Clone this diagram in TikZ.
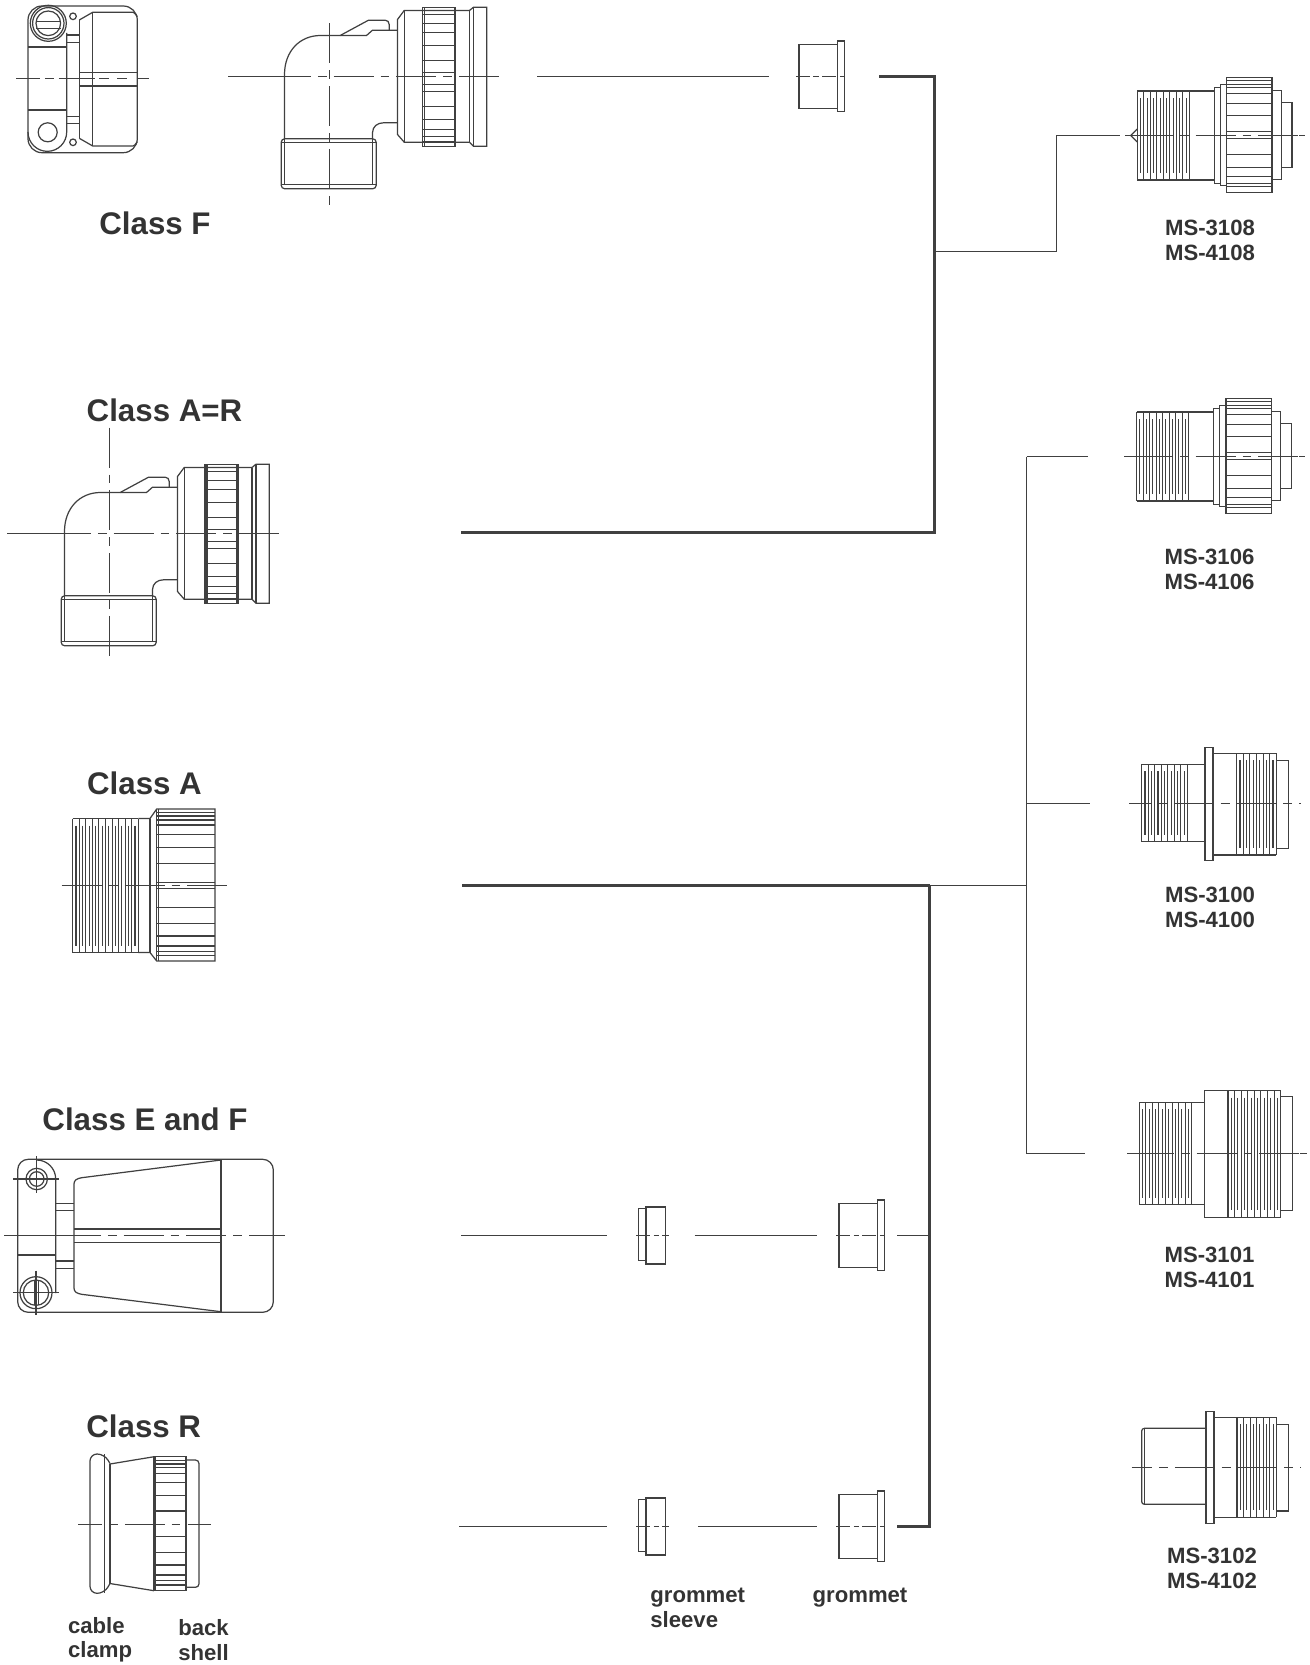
\documentclass[tikz,border=0pt]{standalone}
\usepackage{fontspec}
\setmainfont{Liberation Sans}
\usepackage{xcolor}
\definecolor{ink}{HTML}{333333}
\definecolor{wire}{HTML}{404040}
\usetikzlibrary{positioning}
\tikzset{
    part/.style = {wire, line width=0.7pt},
    finepart/.style = {wire, line width=0.6pt},
    axis/.style = {part, dash pattern=on 22.7pt off 4pt on 5pt off 4pt},
    fineaxis/.style = {finepart, dash pattern=on 8pt off 2pt on 3pt off 2pt},
    bus/.style = {wire, line width=1.2pt},
    classlabel/.style = {ink, font=\fontsize{17.8}{20}\selectfont\bfseries, inner sep=0pt},
    partlabel/.style = {ink, font=\fontsize{12.6}{13.9}\selectfont\bfseries, inner sep=0pt, align=center},
    notelabel/.style = {partlabel, anchor=west, align=left}
}
\newcommand\axisline[4]{
  \pgfmathsetmacro\phasept{max(#1-#2,0)*0.5669}
  \pgfmathsetmacro\stubend{max(#1,#2)}
  \draw[part] (#1,#4) -- (\stubend,#4);
  \draw[axis, dash phase=\phasept pt] (\stubend,#4) -- (#3,#4);
}
\newcommand\threads[5]{
  \pgfmathsetmacro\pitch{(#2-#1)/#3}
  \foreach \i in {0,...,#3}
    \draw[finepart] ({#1+\i*\pitch},#4) -- ({#1+\i*\pitch},#5);
  \foreach \i in {1,...,#3}
    \draw[finepart] ({#1+(\i-.5)*\pitch},#4+7) -- ({#1+(\i-.5)*\pitch},#5-7);
  \draw[part] (#1,#4) -- (#2,#4) (#1,#5) -- (#2,#5);
}
\newcommand\knurl[3]{
  \foreach \k in {#3}
    \draw[finepart] (#1,\k) -- (#2,\k);
}
\tikzset{
    sleevepart/.pic = {
      \draw[part] (0,-28.5) rectangle (19.7,28.5);
      \draw[part] (0,-26.7) -- (-7.7,-26.7) -- (-7.7,25.3) -- (0,25.3);
      \draw[fineaxis] (-10,0) -- (23,0);
    },
    grommetpart/.pic = {
      \draw[part] (0,-32) -- (-38.7,-32) -- (-38.7,32) -- (0,32);
      \draw[part] (0,-35.5) rectangle (7,35.2);
      \draw[fineaxis] (-41.7,0) -- (9.3,0);
    },
    pics/elbowpart/.style = {code = {
      \draw[part] (-45,62.3) -- (-45,-2) .. controls (-45,-25) and (-30,-41) .. (-9,-41) -- (37,-41) -- (43,-46.3) -- (68,-46.3);
      \draw[part] (10.7,-41) -- (39,-56.3) -- (55.7,-56.3) .. controls (58,-56.3) and (59.7,-54.5) .. (59.7,-52) -- (59.7,-46.3);
      \draw[part] (43,62.3) -- (43,56.3) .. controls (43,50) and (48,46.3) .. (54,46.3) -- (68,46.3);
      \draw[part, rounded corners=2] (-48.3,62.3) rectangle (46.7,112.3);
      \draw[part] (-48.3,66.3) -- (46.7,66.3) (-48.3,108.3) -- (46.7,108.3) (-45,62.3) -- (-45,108.3) (43,62.3) -- (43,108.3);
      \draw[part] ({140+#1},-66) -- (74.7,-66) -- (68,-57) -- (68,58) -- (74.7,65.7) -- ({140+#1},65.7);
      \draw[part] (74.7,-66) -- (74.7,65.7);
      \begin{scope}[xshift=#1*0.02cm]
        \draw[part] (140,-66) -- (140,65.7);
        \draw[part] (93,-69.3) rectangle (126,69.7);
        \draw[finepart] (95,-69.3) -- (95,69.7) (125,-69.3) -- (125,69.7);
        \knurl{93}{126}{-66,-62,-53,-43.7,-31.3,-16.3,-4.3,8.3,14.7,30.3,43,53,59.7,64.7}
        \draw[part] (140,-66) -- (144,-69.3) -- (157.3,-69.3) -- (157.3,69.7) -- (144,69.7) -- (140,65.7);
        \draw[part] (144,-69.3) -- (144,69.7);
      \end{scope}
    }},
    plugpart/.pic = {
      \threads{0}{52}{8}{-44.5}{44.5}
      \draw[part] (52,-44.5) -- (77,-44.5) (52,44.5) -- (77,44.5);
      \draw[part] (77,-48) rectangle (83,47.7);
      \draw[part] (83,-50.7) rectangle (89.3,50.3);
      \draw[part] (89.3,-58) rectangle (134.7,56.7);
      \draw[part] (134.7,-45) rectangle (144,43.7);
      \draw[part] (144,-33) rectangle (154.7,31.7);
      \knurl{89.3}{134.7}{-55,-50.7,-48,-41.7,-31.7,-19.7,-3.7,3,19.3,31.7,41,47.7,51}
    }
}
\begin{document}
\begin{tikzpicture}[x=0.02cm,y=-0.02cm]
  \useasboundingbox (0,0) rectangle (1309,1665);

  \node[classlabel] (classF) at (155,223.5) {Class F};
  \node[classlabel] (classAR) at (164.5,410) {Class A=R};
  \node[classlabel] (classA) at (144.5,783.5) {Class A};
  \node[classlabel] (classEF) at (145,1119.5) {Class E and F};
  \node[classlabel] (classR) at (143.7,1426) {Class R};

  \node[partlabel] (ms3108) at (1210,240.5) {MS-3108\\MS-4108};
  \node[partlabel] (ms3106) at (1209.5,569.5) {MS-3106\\MS-4106};
  \node[partlabel] (ms3100) at (1210,907.5) {MS-3100\\MS-4100};
  \node[partlabel] (ms3101) at (1209.5,1267.5) {MS-3101\\MS-4101};
  \node[partlabel] (ms3102) at (1212,1568.5) {MS-3102\\MS-4102};
  \node[notelabel] (sleeve) at (650,1608) {grommet\\sleeve};
  \node[partlabel] (grommet) at (860,1597.5) {grommet};
  \node[notelabel] (clamp) at (67.7,1639.5) {cable\\clamp};
  \node[notelabel] (shell) at (178,1640) {back\\shell};

  % flat clamp, class F
  \draw[part, rounded corners=8] (28,6) rectangle (137.3,152.7);
  \draw[part] (48.3,23.3) circle [radius=18] (48.3,23.3) circle [radius=15.7] (48.3,23.3) circle [radius=12.3];
  \draw[part] (36,21.7) -- (60.7,21.7) (36,28.3) -- (60.7,28.3);
  \draw[part] (28,47) -- (66.7,47) (28,110) -- (66.7,110);
  \draw[part] (66.7,33) -- (66.7,132) arc [start angle=0, end angle=180, radius=19.35];
  \draw[part] (47.7,132.3) circle [radius=9.5];
  \draw[part] (73,16.3) circle [radius=3.3] (73,142.3) circle [radius=3.3];
  \draw[part] (66.7,35) -- (79.3,35) (66.7,42.7) -- (79.3,42.7) (66.7,116.7) -- (79.3,116.7) (66.7,123.3) -- (79.3,123.3);
  \draw[part] (79.3,20) -- (79.3,138.3);
  \draw[part] (137.3,16.7) .. controls (135,13.5) and (134,12.3) .. (133,12.3) -- (92.7,12.3) -- (79.3,20);
  \draw[part] (137.3,141.7) .. controls (135,145) and (134,146) .. (133,146) -- (92.7,146) -- (79.3,138.3);
  \draw[part] (92.7,12.3) -- (92.7,146);
  \draw[part] (79.3,72.7) -- (137.3,72.7) (79.3,86) -- (137.3,86);
  \draw[part, dash pattern=on 13.6pt off 2.8pt on 5.1pt off 2.8pt on 20.4pt off 2.8pt on 5.7pt off 4.5pt on 5.7pt off 5.7pt on 6.8pt off 1pt] (16,78.5) -- (150,78.5);

  % elbows
  \pic (elbowF) at (329.5,76.5) {elbowpart=0};
  \axisline{228}{271}{499}{76.5}
  \draw[axis] (329.5,23.5) -- (329.5,205);
  \pic (elbowAR) at (109.5,533.5) {elbowpart=2.5};
  \axisline{7}{51}{281.7}{533.5}
  \draw[axis] (109.5,427.7) -- (109.5,659.3);

  % class A
  \threads{72.7}{138.3}{10}{818.5}{952.5}
  \draw[part] (138.3,818.5) -- (150,818.5) -- (156.7,809) -- (215,809) -- (215,961) -- (156.7,961) -- (150,952.5) -- (138.3,952.5);
  \draw[part] (150,818.5) -- (150,952.5) (156.7,809) -- (156.7,961) (158.3,809) -- (158.3,961);
  \knurl{156.7}{215}{812.7,816,820,825,834.3,847.7,863.3,882.7,888.7,907.3,923.3,936,946,951.7,955.7}
  \axisline{61.7}{62}{227.3}{885.5}

  % wide clamp, class E and F
  \draw[part, rounded corners=6] (17.7,1159.3) rectangle (273.3,1312.3);
  \draw[part] (55.7,1179) arc [start angle=0, end angle=-90, radius=19] (55.7,1179) -- (55.7,1293);
  \draw[part] (17.7,1255) -- (55.7,1255);
  \draw[part] (36.7,1179) circle [radius=10.7] (36.7,1179) circle [radius=7.3];
  \draw[part] (13.3,1179) -- (59,1179) (36.7,1156) -- (36.7,1193);
  \draw[part] (36,1292.7) circle [radius=16] (36,1292.7) circle [radius=12.7];
  \draw[part] (34.3,1280) -- (34.3,1305) (38.3,1280) -- (38.3,1305);
  \draw[part] (13.3,1292.7) -- (59,1292.7) (36,1270.7) -- (36,1315);
  \draw[part] (55.7,1203.3) -- (74,1203.3) (55.7,1210.7) -- (74,1210.7) (55.7,1261) -- (74,1261) (55.7,1268.3) -- (74,1268.3);
  \draw[part] (221,1160) -- (81.7,1177.7) .. controls (77,1178.5) and (74,1180) .. (74,1184) -- (74,1288) .. controls (74,1292) and (77,1293.5) .. (81.7,1294.3) -- (221,1311.7);
  \draw[part] (221,1159.3) -- (221,1312.3);
  \draw[part] (74,1229) -- (221,1229) (74,1242.7) -- (221,1242.7);
  \axisline{4}{61}{285.3}{1235.5}

  % class R
  \draw[part, rounded corners=4] (110,1463.5) -- (104.3,1454) -- (90,1454) -- (90,1593.3) -- (104.3,1593.3) -- (110,1583.5);
  \draw[part] (110,1463.5) -- (110,1583.5) (104.3,1454) -- (104.3,1593.3);
  \draw[part] (110,1464) -- (154,1456.7) (110,1583.5) -- (154,1590.7);
  \draw[part] (154,1456.7) rectangle (186,1590.7);
  \draw[finepart] (155.3,1456.7) -- (155.3,1590.7);
  \knurl{154}{186}{1460.7,1464,1467.3,1473.3,1482.7,1495.3,1511,1536.7,1552.7,1565,1575,1580.7,1585}
  \draw[part, rounded corners=2] (186,1460) -- (199,1460) -- (199,1587.3) -- (186,1587.3);
  \axisline{78}{62}{210.7}{1524.5}

  % grommets
  \pic (grommetTop) at (837.6,76.5) {grommetpart};
  \pic (sleeveEF) at (646,1235.5) {sleevepart};
  \pic (grommetEF) at (877.7,1235.5) {grommetpart};
  \pic (sleeveR) at (646,1526.5) {sleevepart};
  \pic (grommetR) at (877.7,1526.5) {grommetpart};

  % plugs
  \pic (plug3108) at (1137.3,135.5) {plugpart};
  \axisline{1125.3}{1133}{1305}{135.5}
  \draw[part] (1299,135.5) -- (1305,135.5);
  \draw[part] (1137.3,129) -- (1130.7,135.5) -- (1137.3,142);
  \pic (plug3106) at (1136.7,456.5) {plugpart};
  \axisline{1124}{1133}{1305}{456.5}
  \draw[part] (1299,456.5) -- (1305,456.5);

  \threads{1141.7}{1187.3}{7}{764.3}{841.7}
  \draw[part] (1187.3,764.3) -- (1205,764.3) (1187.3,841.7) -- (1205,841.7);
  \draw[part] (1205,747.3) rectangle (1213,860.3);
  \draw[part] (1213,753.3) -- (1236.7,753.3) (1213,855) -- (1236.7,855);
  \threads{1236.7}{1276.3}{6}{753.3}{855}
  \draw[part] (1276.3,760.7) -- (1288.3,760.7) -- (1288.3,848.3) -- (1276.3,848.3);
  \axisline{1129.3}{1111}{1300.7}{803.5}

  \threads{1139.3}{1191.7}{8}{1102.3}{1204.7}
  \draw[part] (1191.7,1102.3) -- (1204.3,1102.3) (1191.7,1204.7) -- (1204.3,1204.7);
  \draw[part] (1204.3,1090.7) rectangle (1228,1217.3);
  \threads{1228}{1280.7}{8}{1090.7}{1217.3}
  \draw[part] (1280.7,1096.7) -- (1292.7,1096.7) -- (1292.7,1210.7) -- (1280.7,1210.7);
  \axisline{1127}{1134}{1306.7}{1153.5}
  \draw[part] (1300,1153.5) -- (1306.7,1153.5);

  \draw[part, rounded corners=1.5] (1206,1428.3) -- (1141.7,1428.3) -- (1141.7,1504.3) -- (1206,1504.3);
  \draw[part] (1144.3,1428.3) -- (1144.3,1504.3);
  \draw[part] (1206,1411.7) rectangle (1214,1523.3);
  \draw[part] (1214,1417.3) -- (1237,1417.3) (1214,1517.3) -- (1237,1517.3);
  \threads{1237}{1276.3}{6}{1417.3}{1517.3}
  \draw[part] (1276.3,1424.3) -- (1288.3,1424.3) -- (1288.3,1511) -- (1276.3,1511);
  \axisline{1131.7}{1112}{1300.7}{1467.5}

  % connectors
  \coordinate (clampOut) at (461,532.5);
  \coordinate (elbowOut) at (537,76.5);
  \coordinate (grommetIn) at (769,76.5);
  \coordinate (grommetOut) at (879,76.5);
  \coordinate (upperBus) at (934.5,76.5);
  \coordinate (upperTap) at (1056.5,251.5);
  \coordinate (plugIn) at (1120,135.5);
  \coordinate (classAOut) at (462,885.5);
  \coordinate (lowerBus) at (929.5,885.5);
  \coordinate (rightBus) at (1026.5,885.5);
  \coordinate (in3106) at (1088,456.5);
  \coordinate (in3100) at (1090,803.5);
  \coordinate (in3101) at (1085,1153.5);
  \coordinate (efOut) at (461,1235.5);
  \coordinate (efSleeveIn) at (607,1235.5);
  \coordinate (efSleeveOut) at (694.7,1235.5);
  \coordinate (efGrommetIn) at (816.7,1235.5);
  \coordinate (efGrommetOut) at (897,1235.5);
  \coordinate (rOut) at (459,1526.5);
  \coordinate (rSleeveIn) at (607,1526.5);
  \coordinate (rSleeveOut) at (698,1526.5);
  \coordinate (rGrommetIn) at (816.7,1526.5);
  \coordinate (rGrommetOut) at (897,1526.5);
  \coordinate (busFoot) at (929.5,1526.5);

  \draw[part] (elbowOut) -- (grommetIn);
  \draw[bus] (grommetOut) -- (upperBus) -- (upperBus |- clampOut) -- (clampOut);
  \draw[part] (upperBus |- upperTap) -- (upperTap) -- (upperTap |- plugIn) -- (plugIn);
  \draw[bus] (classAOut) -- (lowerBus);
  \draw[part] (lowerBus) -- (rightBus);
  \draw[part] (rightBus |- in3106) -- (rightBus |- in3101) -- (in3101);
  \draw[part] (rightBus |- in3106) -- (in3106);
  \draw[part] (rightBus |- in3100) -- (in3100);
  \draw[part] (efOut) -- (efSleeveIn);
  \draw[part] (efSleeveOut) -- (efGrommetIn);
  \draw[part] (efGrommetOut) -- (lowerBus |- efGrommetOut);
  \draw[part] (rOut) -- (rSleeveIn);
  \draw[part] (rSleeveOut) -- (rGrommetIn);
  \draw[bus] (lowerBus) -- (busFoot) -- (rGrommetOut);
\end{tikzpicture}
\end{document}
